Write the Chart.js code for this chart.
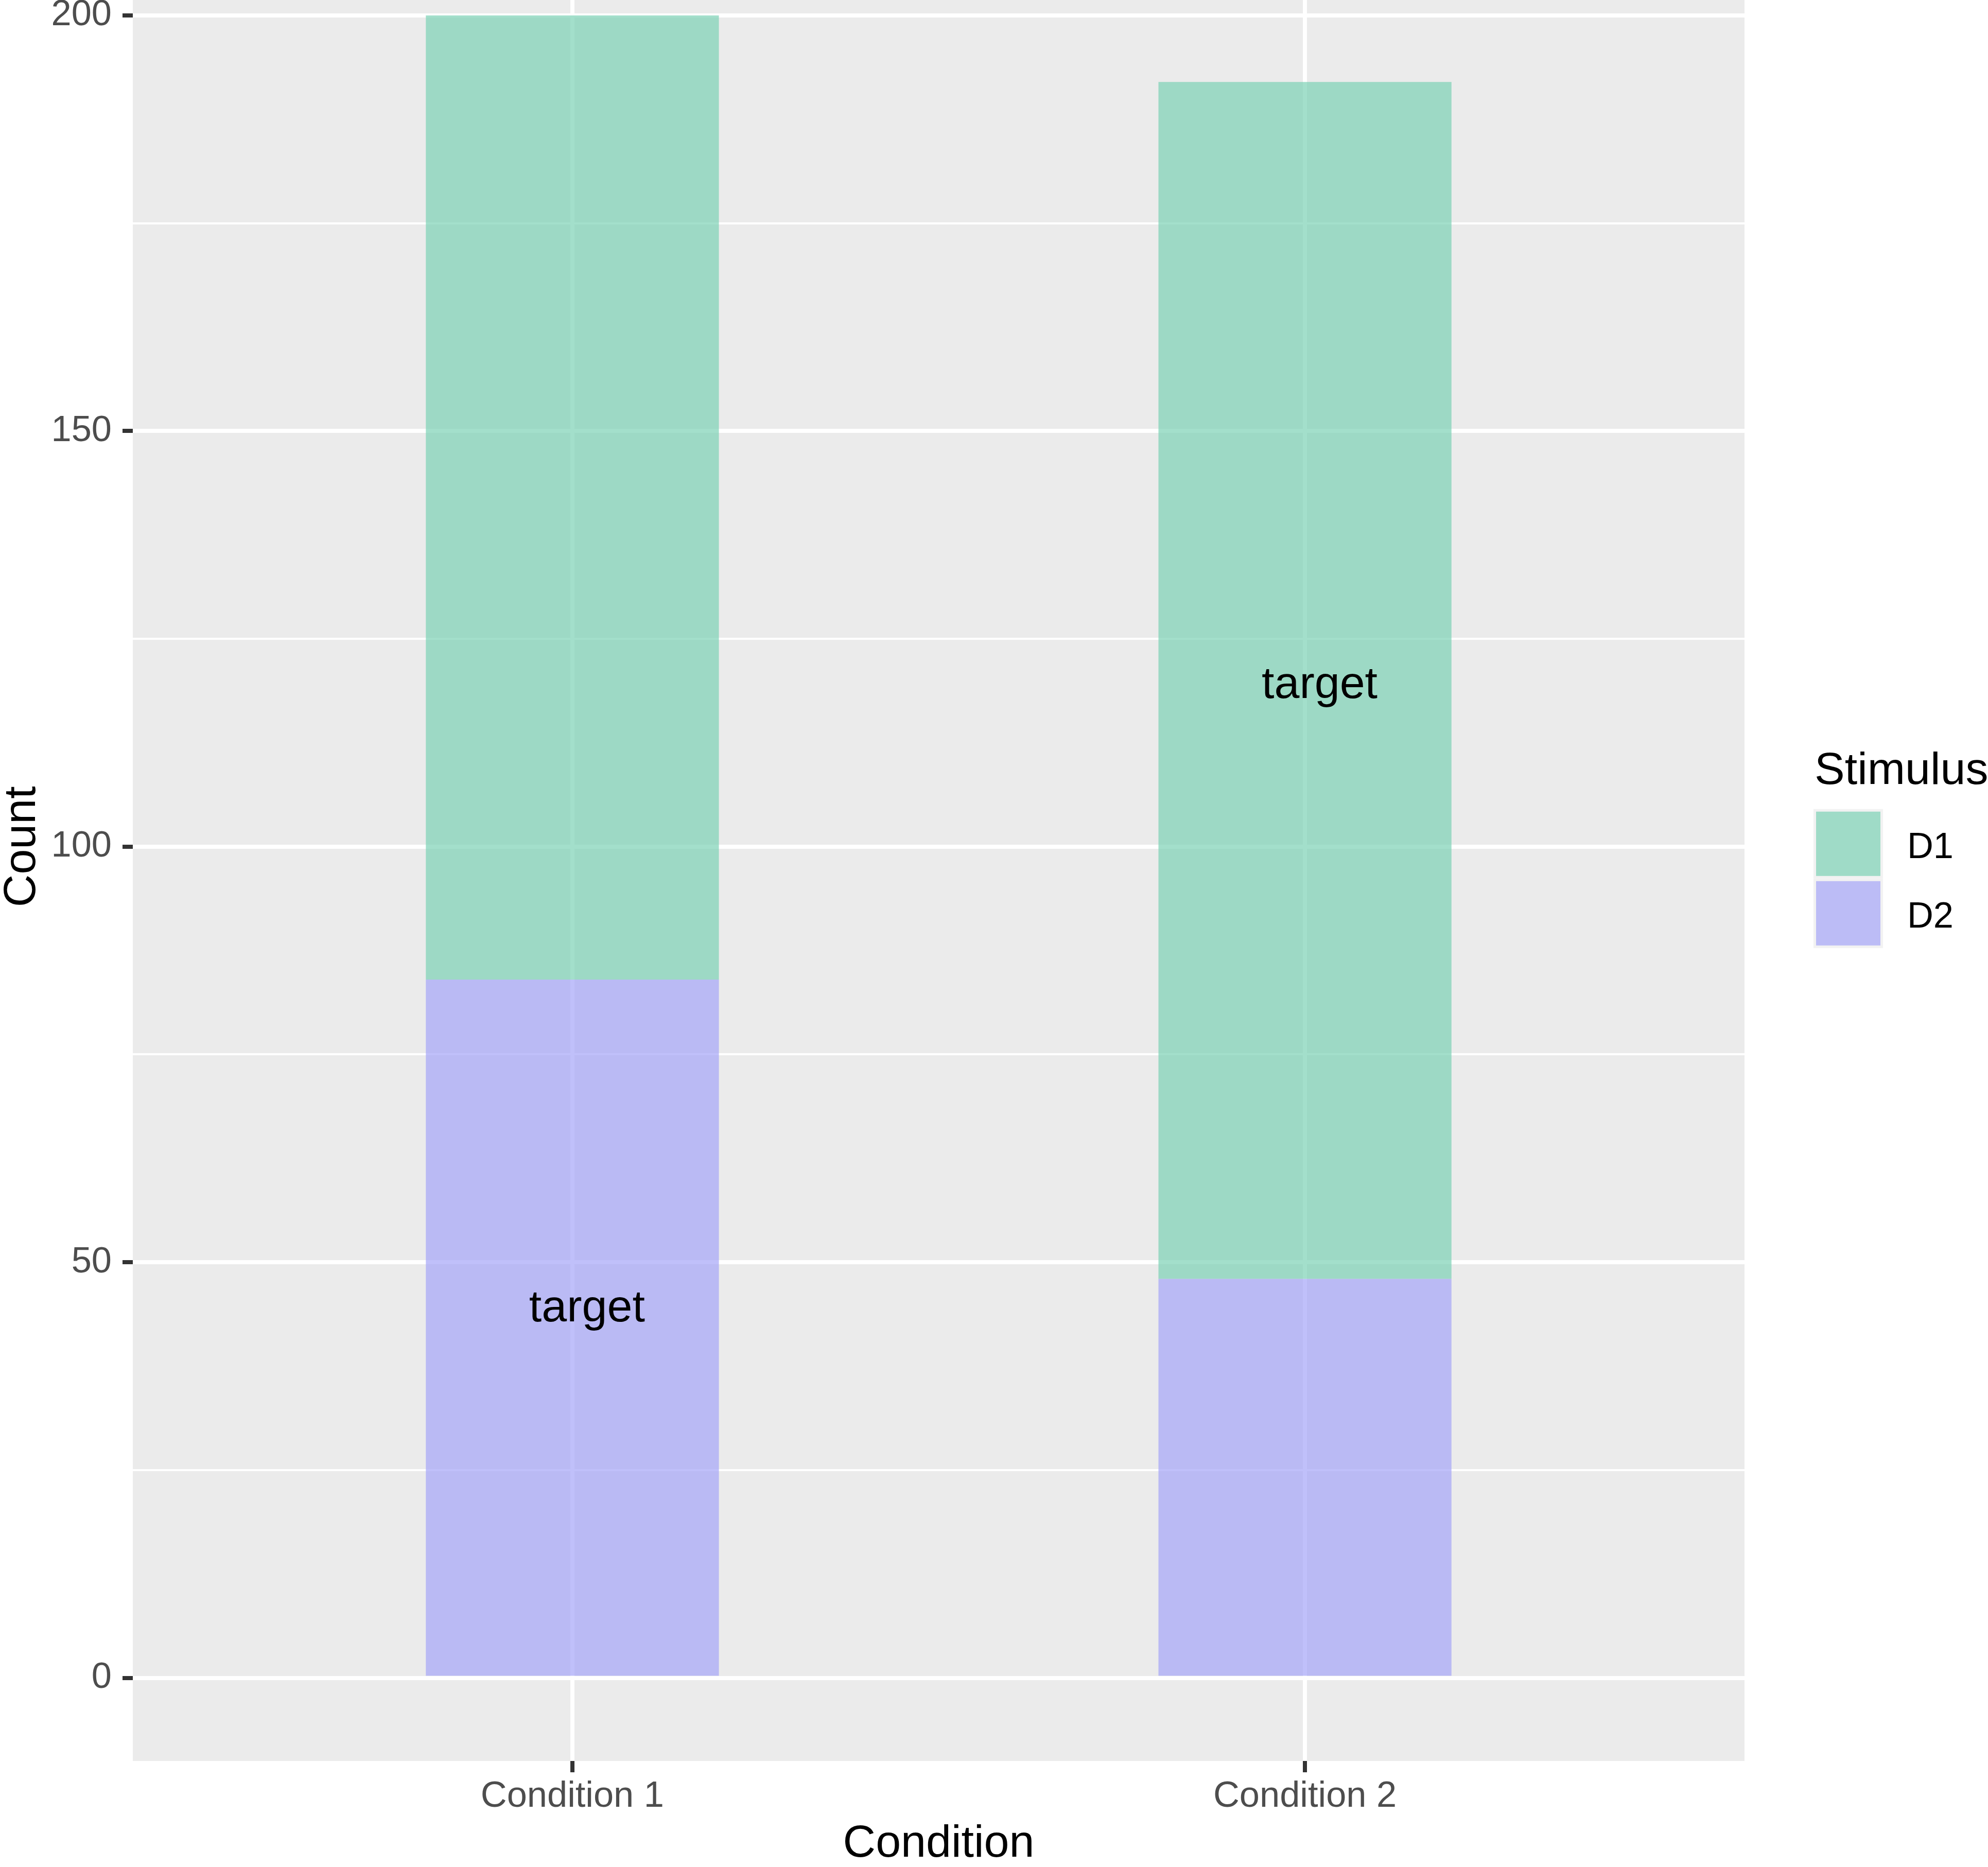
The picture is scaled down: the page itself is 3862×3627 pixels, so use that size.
<!DOCTYPE html>
<html><head><meta charset="utf-8">
<script src="https://cdn.jsdelivr.net/npm/chart.js@4.4.1/dist/chart.umd.min.js"></script>
<style>
html,body{margin:0;padding:0;background:#ffffff;overflow:hidden;}
#wrap{position:relative;width:3862px;height:3627px;overflow:hidden;background:#ffffff;}
#c{position:absolute;left:0;top:-136px;}
</style></head><body>
<div id="wrap"><canvas id="c" width="3862" height="3763" style="width:3862px;height:3763px"></canvas></div>
<script>
// ---- data ----
const categories = ['Condition 1', 'Condition 2'];
const categoryPositions = [1, 2];
const seriesNames = ['D1', 'D2'];
const d1Counts = [116, 144];
const d2Counts = [84, 48];
const yTickValues = [0, 25, 50, 75, 100, 125, 150, 175, 200];
const yLabelledTicks = [0, 50, 100, 150, 200];
const annotationTexts = ['target', 'target'];
const annotationX = [1.02, 2.02];
const annotationY = [45, 120];
const xTitle = 'Condition';
const yTitle = 'Count';
const legendTitle = 'Stimulus';

// ---- styles ----
const FONT = '"Liberation Sans", Arial, Helvetica, sans-serif';
const seriesColors = { D1: 'rgba(124,209,181,0.7)', D2: 'rgba(165,165,248,0.7)' };

const panelBg = {
  id: 'panelBg',
  beforeDraw(chart) {
    const { ctx, chartArea: a } = chart;
    ctx.save();
    ctx.fillStyle = '#EBEBEB';
    ctx.fillRect(a.left, a.top, a.right - a.left, a.bottom - a.top);
    ctx.restore();
  }
};

const annotations = {
  id: 'annotations',
  afterDatasetsDraw(chart) {
    const { ctx } = chart;
    const xs = chart.scales.x, ys = chart.scales.y;
    ctx.save();
    ctx.fillStyle = '#000000';
    ctx.font = '88px ' + FONT;
    ctx.textAlign = 'center';
    ctx.textBaseline = 'alphabetic';
    annotationTexts.forEach((t, i) => {
      ctx.fillText(t, xs.getPixelForValue(annotationX[i]), ys.getPixelForValue(annotationY[i]) + 34);
    });
    ctx.restore();
  }
};

const customLegend = {
  id: 'customLegend',
  afterDraw(chart) {
    const { ctx, chartArea: a } = chart;
    const cy = (a.top + a.bottom) / 2;
    const x0 = a.right + 134;
    const key = 135;
    ctx.save();
    ctx.fillStyle = '#000000';
    ctx.textAlign = 'left';
    ctx.textBaseline = 'alphabetic';
    ctx.font = '88px ' + FONT;
    ctx.fillText(legendTitle, x0 + 2, cy - 122);
    ctx.font = '70.4px ' + FONT;
    seriesNames.forEach((name, i) => {
      const top = cy - 73 + i * key;
      ctx.fillStyle = '#F2F2F2';
      ctx.fillRect(x0, top, key, key);
      ctx.fillStyle = seriesColors[name];
      ctx.fillRect(x0 + 5, top + 5, key - 10, key - 10);
      ctx.fillStyle = '#000000';
      ctx.fillText(name, x0 + 182, top + key / 2 + 28);
    });
    ctx.restore();
  }
};

const isMajor = v => yLabelledTicks.includes(v);
const zeroPad = s => { s.paddingTop = 0; s.paddingBottom = 0; s.paddingLeft = 0; s.paddingRight = 0; };

const chart = new Chart(document.getElementById('c').getContext('2d'), {
  type: 'bar',
  data: {
    datasets: [
      {
        label: 'D2',
        data: categoryPositions.map((x, i) => ({ x: x, y: d2Counts[i] })),
        backgroundColor: seriesColors.D2,
        borderWidth: 0,
        barPercentage: 0.4,
        categoryPercentage: 1
      },
      {
        label: 'D1',
        data: categoryPositions.map((x, i) => ({ x: x, y: d1Counts[i] })),
        backgroundColor: seriesColors.D1,
        borderWidth: 0,
        barPercentage: 0.4,
        categoryPercentage: 1
      }
    ]
  },
  options: {
    responsive: false,
    animation: false,
    devicePixelRatio: 1,
    layout: { padding: { top: 4.5, right: 473, bottom: 0, left: 0 } },
    plugins: { legend: { display: false }, tooltip: { enabled: false } },
    scales: {
      x: {
        type: 'linear',
        stacked: true,
        offset: false,
        min: 0.4,
        max: 2.6,
        afterBuildTicks: s => { s.ticks = categoryPositions.map(v => ({ value: v })); },
        afterFit: s => { s.height = 206; zeroPad(s); },
        ticks: {
          callback: v => { const i = categoryPositions.indexOf(v); return i >= 0 ? categories[i] : ''; },
          color: '#4D4D4D',
          font: { family: FONT, size: 70.4, lineHeight: 1 },
          padding: 12,
          maxRotation: 0,
          minRotation: 0,
          autoSkip: false
        },
        grid: { offset: false, color: '#FFFFFF', lineWidth: 8, tickLength: 22, tickColor: '#333333', tickWidth: 8 },
        border: { display: false },
        title: { display: true, text: xTitle, color: '#000000', font: { family: FONT, size: 88, lineHeight: 1 }, padding: 0 }
      },
      y: {
        type: 'linear',
        stacked: true,
        min: -10,
        max: 210,
        afterBuildTicks: s => { s.ticks = yTickValues.map(v => ({ value: v })); },
        afterFit: s => { s.width = 258; zeroPad(s); },
        ticks: {
          callback: v => isMajor(v) ? String(v) : '',
          color: '#4D4D4D',
          font: { family: FONT, size: 70.4, lineHeight: 1 },
          padding: 21,
          autoSkip: false
        },
        grid: {
          color: '#FFFFFF',
          lineWidth: c => (c.tick && isMajor(c.tick.value)) ? 8 : 4,
          tickLength: 20,
          tickColor: c => (c.tick && isMajor(c.tick.value)) ? '#333333' : 'rgba(0,0,0,0)',
          tickWidth: 8
        },
        border: { display: false },
        title: { display: true, text: yTitle, color: '#000000', font: { family: FONT, size: 88, lineHeight: 1 }, padding: 0 }
      }
    }
  },
  plugins: [panelBg, annotations, customLegend]
});
</script>
</body></html>
